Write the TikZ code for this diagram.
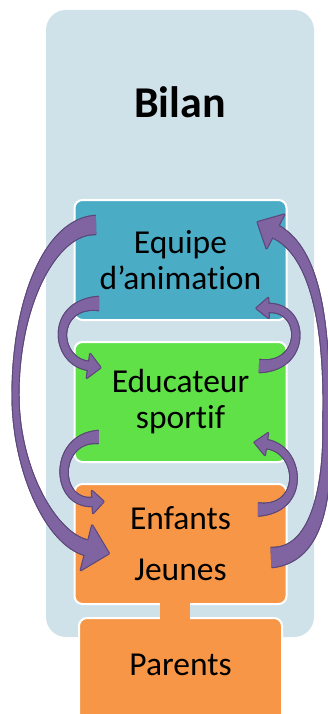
\documentclass[tikz,border=0pt]{standalone}
\usepackage{fontspec}
\setmainfont{Carlito}[Ligatures={TeX,NoCommon}]
\usetikzlibrary{positioning,calc,decorations.markings}

\definecolor{panelblue}{RGB}{208,226,233}
\definecolor{teambox}{RGB}{75,172,198}
\definecolor{coachbox}{RGB}{97,225,72}
\definecolor{kidsbox}{RGB}{247,150,70}
\definecolor{arrowfill}{RGB}{128,100,162}
\definecolor{arrowline}{RGB}{92,72,122}

\newcommand{\shaftpiece}[5]{%
  \pgfmathsetmacro{\arrpos}{min(1,(\pgfkeysvalueof{/pgf/decoration/mark info/sequence number}-1)*0.5/\pgfdecoratedpathlength)}%
  \pgfmathsetlengthmacro{\halfw}{(#2+(#1-#2)*(1-\arrpos)^3+(#3-#2)*\arrpos^3)/2+#4}%
  \fill[#5] (-0.6pt,-\halfw) rectangle (0.6pt,\halfw);}
\newcommand{\headpiece}[3]{\path[#3] (0pt,-#1pt) -- (#2pt+1pt,0pt) -- (0pt,#1pt) -- cycle;}

\tikzset{
  box/.style={draw=white,line width=2pt,rounded corners=8pt,minimum width=212pt,minimum height=120pt,
    inner sep=0pt,align=center,font=\fontsize{33.5}{36}\selectfont},
  bentshaft/.style n args={5}{postaction={decorate,decoration={markings,
    mark=between positions 0 and 1 step 0.5pt with {\shaftpiece{#1}{#2}{#3}{#4}{#5}}}}},
  benthead/.style n args={3}{postaction={decorate,decoration={markings,
    mark=at position -1pt with {\headpiece{#1}{#2}{#3}}}}},
  bent/.style n args={5}{bentshaft={#1}{#2}{#3}{1.2}{arrowline},
    benthead={#4}{#5}{fill=arrowline,draw=arrowline,line width=2.4pt,line join=round},
    bentshaft={#1}{#2}{#3}{0}{arrowfill},benthead={#4}{#5}{fill=arrowfill}}
}

\begin{document}
\begin{tikzpicture}[x=1pt,y=-1pt]
\useasboundingbox (0,0) rectangle (328,714);
\node[fill=panelblue,rounded corners=20pt,minimum width=268pt,minimum height=627pt,inner sep=0pt] (panel) at (180,323.5) {};
\node[font=\fontsize{44}{48}\selectfont\bfseries,anchor=base] (bilan) at (180,118) {Bilan};
\node[box,fill=teambox] (equipe) at (180.5,260) {Equipe\\d’animation};
\node[box,fill=coachbox,below=20pt of equipe] (educ) {Educateur\\sportif};
\node[box,fill=kidsbox,below=20pt of educ] (kids) {Enfants\\[15pt]Jeunes};
\node[box,fill=kidsbox,minimum width=203pt,minimum height=110pt,below=12pt of kids] (parents) {};
\node[font=\fontsize{33.5}{36}\selectfont,anchor=base] (parentslbl) at ($(parents.north)+(0,58)$) {Parents};
\fill[kidsbox] ($(kids.south)+(-20.5,-4)$) rectangle ($(parents.north)+(9.5,4)$);
\path[bent={18}{2}{15}{23}{22}] ($(equipe.west)+(22,-35)$) .. controls +(-44,1) and +(0,-94) .. ++(-80,170)
  .. controls +(0,75) and +(-36,-8) .. ($(kids.west)+(14,4)$);
\path[bent={19}{2}{13}{19}{19}] ($(kids.east)+(-16,13.5)$) .. controls +(50,-2) and +(2,60) .. ++(55,-137.5)
  .. controls +(1,-100) and +(40,20) .. ($(equipe.east)+(-13,-29)$);
\path[bent={13}{6}{8}{12}{11}] ($(equipe.west)+(25,43.5)$) .. controls +(-48,-0.5) and +(-36,-4) .. ($(educ.west)+(16,-36)$);
\path[bent={12}{6}{8}{11}{10}] ($(educ.west)+(25,35)$) .. controls +(-45,0) and +(-40,3) .. ($(kids.west)+(20,-42)$);
\path[bent={12}{6}{8}{10}{11}] ($(educ.east)+(-28,-36)$) .. controls +(47,2) and +(39,-2) .. ($(equipe.east)+(-20,48)$);
\path[bent={12}{5}{8}{11}{11}] ($(kids.east)+(-29,-34.5)$) .. controls +(48,0.5) and +(36,4) .. ($(educ.east)+(-22,42)$);
\end{tikzpicture}
\end{document}
